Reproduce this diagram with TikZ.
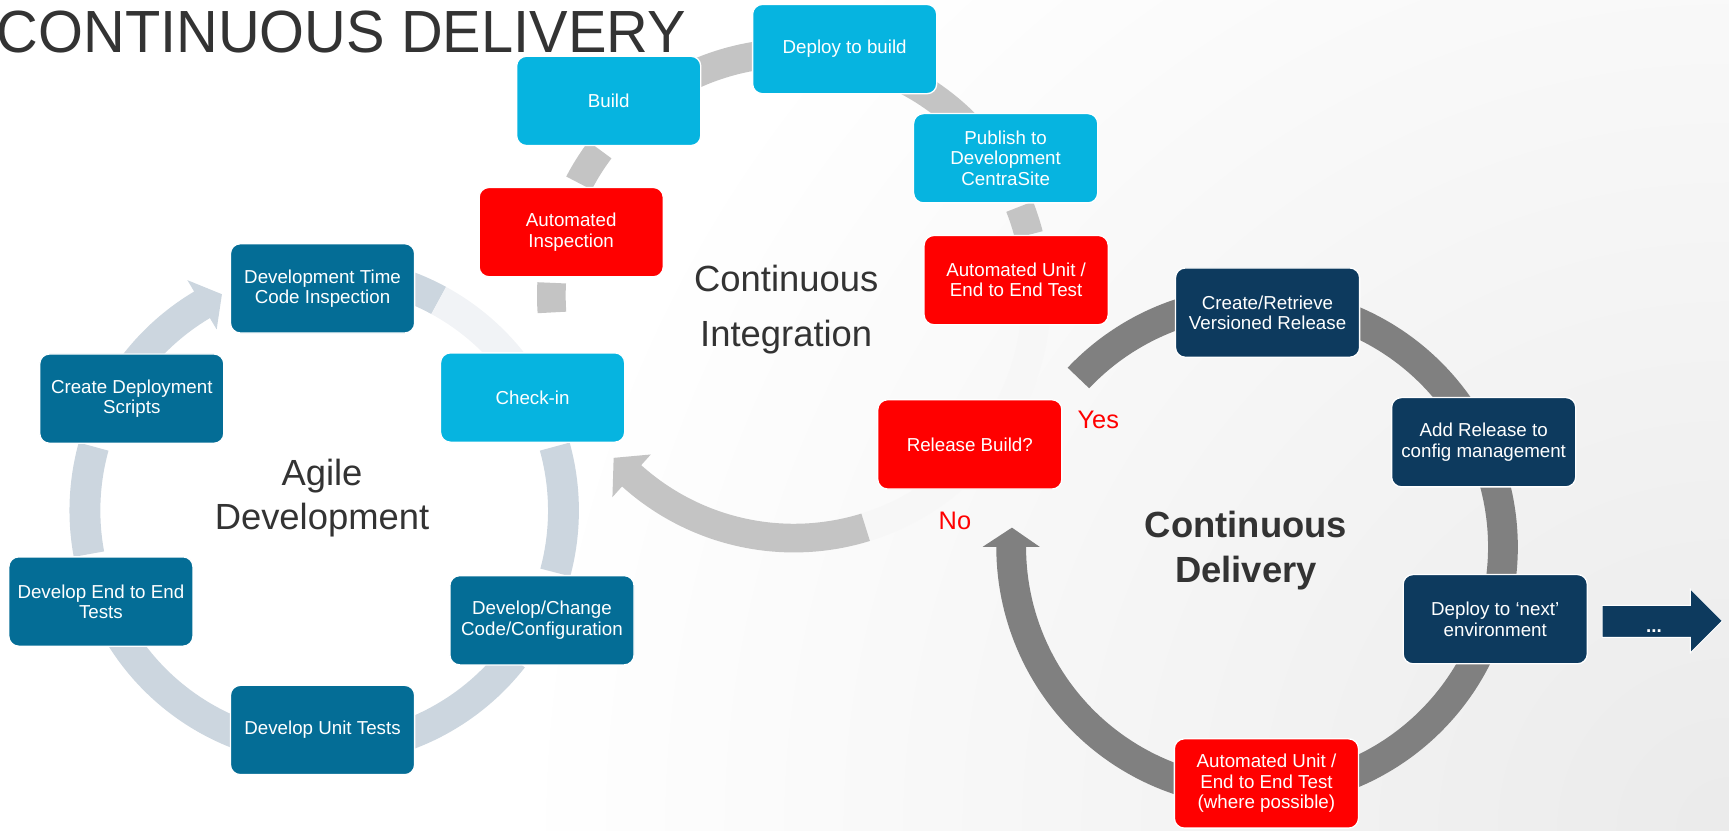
\documentclass[tikz,border=0pt]{standalone}
\usepackage{fontspec}
\setmainfont{Liberation Sans}
\usetikzlibrary{calc}
\definecolor{lblue}{HTML}{06B4E0}
\definecolor{agteal}{HTML}{046D96}
\definecolor{cdnavy}{HTML}{0D3A5E}
\definecolor{cired}{HTML}{FF0000}
\definecolor{cigrey}{HTML}{C4C4C4}
\definecolor{cifaint}{HTML}{F7F7F7}
\definecolor{aggrey}{HTML}{CCD6DF}
\definecolor{agfaint}{HTML}{F1F3F6}
\definecolor{cdgrey}{HTML}{808080}
\definecolor{txtdark}{HTML}{333333}
% ring band: style, cx, cy, r, a1, a2
\newcommand\ringband[6]{%
  \draw[#1] plot[domain=#5:#6, samples=40, variable=\t] ({#2+#4*cos(\t)},{#3+#4*sin(\t)});}
% ring arrow: fill, cx, cy, r, halfwidth, a1, a2(head base), a3(tip), headhalf
\newcommand\ringarrow[9]{%
  \fill[#1] plot[domain=#6:#7, samples=50, variable=\t] ({#2+(#4+#5)*cos(\t)},{#3+(#4+#5)*sin(\t)})
   -- ({#2+(#4+#9)*cos(#7)},{#3+(#4+#9)*sin(#7)})
   -- ({#2+#4*cos(#8)},{#3+#4*sin(#8)})
   -- ({#2+(#4-#9)*cos(#7)},{#3+(#4-#9)*sin(#7)})
   -- plot[domain=0:1, samples=50, variable=\u] ({#2+(#4-#5)*cos(#7+(#6-#7)*\u)},{#3+(#4-#5)*sin(#7+(#6-#7)*\u)})
   -- cycle;}
\tikzset{
  box/.style={rounded corners=9pt, draw=white, line width=1.2pt, minimum width=167pt,
    minimum height=81pt, text=white, align=center, font=\fontsize{17}{18.5}\selectfont, inner sep=1pt},
  lbox/.style={box, fill=lblue},
  tbox/.style={box, fill=agteal},
  rbox/.style={box, fill=cired},
  nbox/.style={box, fill=cdnavy},
  cilane/.style={cigrey, line width=26pt},
  aglane/.style={aggrey, line width=28pt},
  cdlane/.style={cdgrey, line width=27pt},
  bigtxt/.style={text=txtdark, align=center},
  yn/.style={text=cired, font=\fontsize{23}{26}\selectfont, inner sep=0pt}
}
\begin{document}
\begin{tikzpicture}[x=1pt,y=-1pt]
\useasboundingbox (0,0) rectangle (1568,753);
\begin{scope}
  \clip (0,0) rectangle (1568,753);
  \shade[inner color=black!8, outer color=white] (1568,753) circle (1100);
\end{scope}

% ---- Continuous Integration ring (centre 720,268)
\ringband{cifaint, line width=26pt}{720}{268}{220}{5}{73}
\ringband{cilane}{720}{268}{220}{176}{183}
\ringband{cilane}{720}{268}{220}{207.6}{216.9}
\ringband{cilane}{720}{268}{220}{240}{275}
\ringband{cilane}{720}{268}{220}{295}{318}
\ringband{cilane}{720}{268}{220}{338.5}{345.5}
\ringarrow{cigrey}{720}{268}{220}{13}{72.8}{132}{138}{26}

% ---- Agile ring (centre 294,463)
\ringband{aglane}{294}{463}{217}{290}{298.6}
\ringband{agfaint, line width=28pt}{294}{463}{217}{298.6}{322}
\ringband{aglane}{294}{463}{217}{-15.5}{15}
\ringband{aglane}{294}{463}{217}{38}{70}
\ringband{aglane}{294}{463}{217}{110}{148}
\ringband{aglane}{294}{463}{217}{169.5}{195.5}
\ringarrow{aggrey}{294}{463}{217}{14}{212}{239.3}{244.7}{26}

% ---- Continuous Delivery ring (centre 1140,496)
\ringband{cdlane}{1140}{496}{223}{223.4}{255}
\ringband{cdlane}{1140}{496}{223}{290}{327}
\ringband{cdlane}{1140}{496}{223}{345}{367}
\ringband{cdlane}{1140}{496}{223}{25}{70}
\ringarrow{cdgrey}{1140}{496}{223}{13.5}{100}{180}{184.5}{26}

% ---- boxes
\node[tbox] (dt)   at (292.5,261.5) {Development Time\\Code Inspection};
\node[tbox] (cds)  at (119.5,361.5) {Create Deployment\\Scripts};
\node[tbox] (e2e)  at (91.5,545.5)  {Develop End to End\\Tests};
\node[tbox] (dcc)  at (491.5,562.5) {Develop/Change\\Code/Configuration};
\node[tbox] (ut)   at (292.5,662)   {Develop Unit Tests};
\node[lbox] (chk)  at (483,360.5)   {Check-in};
\node[rbox] (ai)   at (518,210.5)   {Automated\\Inspection};
\node[lbox] (bld)  at (552,91.5)    {Build};
\node[lbox] (dtb)  at (766,44.5)    {Deploy to build};
\node[lbox] (pub)  at (912,143.5)   {Publish to\\Development\\CentraSite};
\node[rbox] (aut)  at (921.5,254)   {Automated Unit /\\End to End Test};
\node[rbox] (rbq)  at (879.5,403)   {Release Build?};
\node[nbox] (crv)  at (1149.5,283.5) {Create/Retrieve\\Versioned Release};
\node[nbox] (arl)  at (1345.5,401)  {Add Release to\\config management};
\node[nbox] (dnx)  at (1356,561.5)  {Deploy to ‘next’\\environment};
\node[rbox] (aut2) at (1148.5,710.5) {Automated Unit /\\End to End Test\\(where possible)};

% ---- next arrow
\fill[cdnavy, draw=white, line width=0.8pt] (1453,549) -- (1533,549) -- (1533,534) -- (1562,563)
  -- (1533,592) -- (1533,578) -- (1453,578) -- cycle;
\node[text=white, font=\bfseries\fontsize{17}{17}\selectfont, anchor=base, inner sep=0pt] (dots) at (1500,574) {...};

% ---- labels
\node[text=txtdark, font=\fontsize{54}{60}\selectfont, anchor=base west, inner sep=0pt, xscale=0.97] (title) at (-3,48) {CONTINUOUS DELIVERY};
\node[bigtxt, font=\fontsize{33}{50}\selectfont] (cilabel) at (713,281) {Continuous\\Integration};
\node[bigtxt, font=\fontsize{33}{40}\selectfont] (aglabel) at (292,452) {Agile\\Development};
\node[bigtxt, font=\bfseries\fontsize{33}{41}\selectfont] (cdlabel) at (1130,499) {Continuous\\Delivery};
\node[yn] (yes) at (996,381) {Yes};
\node[yn] (no) at (866,472) {No};
\end{tikzpicture}
\end{document}
